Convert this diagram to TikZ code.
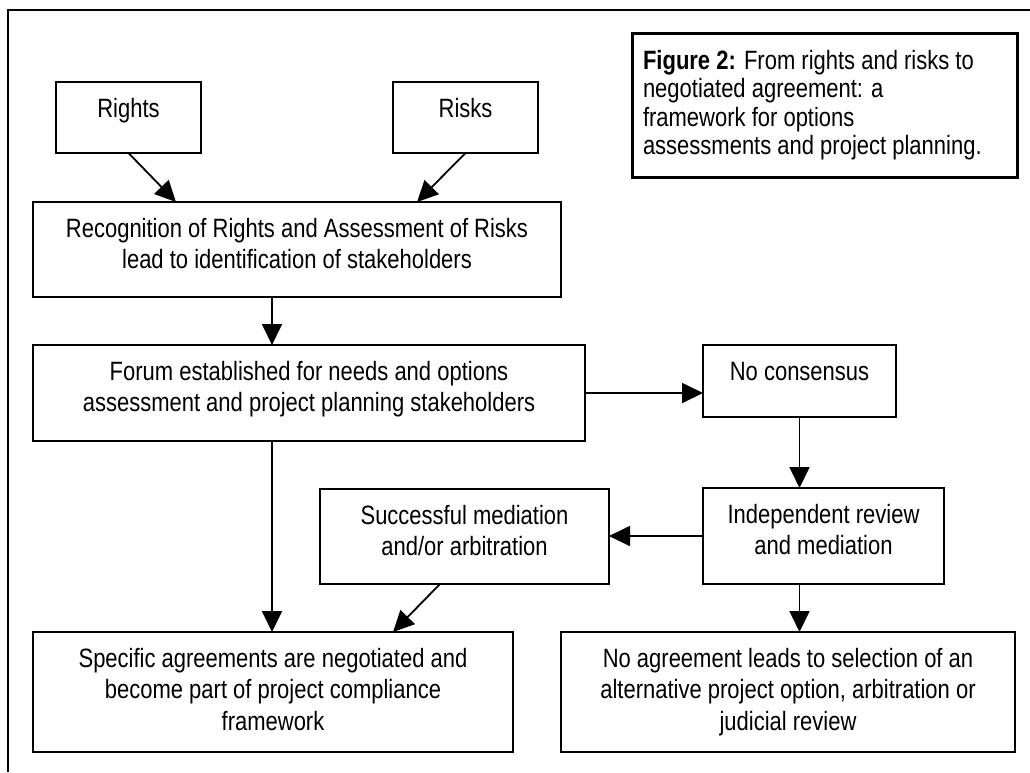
\documentclass[tikz,border=0pt]{standalone}
\usepackage{fontspec}
\setmainfont{Liberation Sans}
\newfontfamily\narrowfont{Liberation Sans}[FakeStretch=0.83]
\usetikzlibrary{arrows.meta,calc}
\newcommand\fl{\rule{0pt}{35pt}}
\newcommand\bx[3]{\parbox[c][#2pt][t]{#1pt}{\centering\narrowfont\fontsize{26.5}{31.5}\selectfont\lineskiplimit=-20pt\fl #3}}
\begin{document}
\begin{tikzpicture}[x=1pt,y=-1pt,
  box/.style={draw, line width=2.2pt, inner sep=0pt, outer sep=0pt},
  arr/.style={line width=1.8pt, -{Triangle[length=21pt,width=20pt]}}]
\useasboundingbox (0,0) rectangle (1030,772);
\draw[line width=2.2pt] (8,772) -- (8,10) -- (1030,10);
\node[box] (rights) at (128.5,117.5) {\bx{145}{71}{Rights}};
\node[box] (risks) at (465.5,117.5) {\bx{145}{71}{Risks}};
\node[box, line width=3pt] (caption) at (824.5,105) {\parbox[c][144pt][t]{385pt}{\raggedright\leftskip=11pt\narrowfont\fontsize{26.5}{28.5}\selectfont\lineskiplimit=-20pt\rule{0pt}{36pt}\textbf{Figure 2:} From rights and risks to\\negotiated agreement: a\\framework for options\\assessments and project planning.}};
\node[box] (recog) at (297,249.5) {\bx{528}{95}{Recognition of Rights and Assessment of Risks\\lead to identification of stakeholders}};
\node[box] (forum) at (309,393) {\bx{552}{96}{Forum established for needs and options\\assessment and project planning stakeholders}};
\node[box] (nocons) at (799.5,381) {\bx{193}{72}{No consensus}};
\node[box] (success) at (464.5,536.5) {\bx{289}{95}{Successful mediation\\and/or arbitration}};
\node[box] (indep) at (823.5,536) {\bx{241}{96}{Independent review\\and mediation}};
\node[box] (specific) at (273,692) {\bx{480}{120}{Specific agreements are negotiated and\\become part of project compliance\\framework}};
\node[box] (noagree) at (788,692) {\bx{454}{120}{No agreement leads to selection of an\\alternative project option, arbitration or\\judicial review}};
\draw[arr] (rights.south) -- ($(recog.north west)+(143,0)$);
\draw[arr] (risks.south) -- ($(recog.north west)+(384,0)$);
\draw[arr] ($(recog.south west)+(239,0)$) -- ($(forum.north west)+(239,0)$);
\draw[arr] (forum.east) -- (forum.east -| nocons.west);
\draw[arr] (nocons.south) -- (nocons.south |- indep.north);
\draw[arr] (indep.west) -- (indep.west -| success.east);
\draw[arr] (nocons.south |- indep.south) -- (nocons.south |- noagree.north);
\draw[arr] ($(success.south west)+(120,0)$) -- ($(specific.north west)+(360,0)$);
\draw[arr] ($(forum.south west)+(239,0)$) -- ($(specific.north west)+(239,0)$);
\end{tikzpicture}
\end{document}
